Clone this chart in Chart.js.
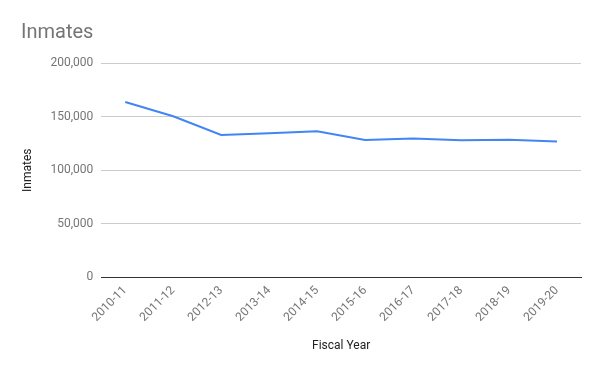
<!DOCTYPE html>
<html>
<head>
<meta charset="utf-8">
<script src="https://cdn.jsdelivr.net/npm/chart.js@4"></script>
<style>
  html, body { margin: 0; padding: 0; background: #fff; }
  #wrap { width: 600px; height: 371px; }
</style>
</head>
<body>
<div id="wrap"><canvas id="chart"></canvas></div>
<script>
const years = ['2010-11', '2011-12', '2012-13', '2013-14', '2014-15', '2015-16', '2016-17', '2017-18', '2018-19', '2019-20'];
const inmates = [163700, 150300, 132900, 134600, 136300, 128200, 129600, 127900, 128500, 126900];
const yTicks = [0, 50000, 100000, 150000, 200000];

const grey = '#757575';

const ctx = document.getElementById('chart').getContext('2d');
const grafica = new Chart(ctx, {
    type: 'line',
    data: {
        labels: years,
        datasets: [{
            label: 'Inmates',
            data: inmates,
            borderColor: '#4285F4',
            borderWidth: 2,
            pointRadius: 0,
            tension: 0,
            fill: false
        }]
    },
    options: {
        responsive: true,
        maintainAspectRatio: false,
        animation: false,
        layout: { padding: { left: 21, right: 19, top: 9, bottom: 14 } },
        plugins: {
            legend: { display: false },
            tooltip: { enabled: false },
            title: {
                display: true,
                text: 'Inmates',
                align: 'start',
                color: grey,
                font: { family: 'Roboto', size: 20, weight: 'normal' },
                padding: { top: 12, bottom: 18 }
            }
        },
        scales: {
            x: {
                offset: true,
                grid: { display: false, drawTicks: false },
                // zero baseline
                border: { display: true, color: '#333', width: 1 },
                ticks: {
                    color: grey,
                    font: { family: 'Roboto', size: 12 },
                    minRotation: 45,
                    maxRotation: 45,
                    padding: 6
                },
                title: {
                    display: true,
                    text: 'Fiscal Year',
                    color: '#222',
                    font: { family: 'Roboto', size: 12 },
                    padding: { top: 8 }
                }
            },
            y: {
                min: 0,
                max: 200000,
                afterBuildTicks: axis => { axis.ticks = yTicks.map(v => ({ value: v })); },
                grid: {
                    color: c => (c.tick && c.tick.value === 0) ? '#333' : '#ccc',
                    drawTicks: false
                },
                border: { display: false },
                ticks: {
                    color: grey,
                    font: { family: 'Roboto', size: 12 },
                    padding: 8,
                    callback: v => v.toLocaleString('en-US')
                },
                title: {
                    display: true,
                    text: 'Inmates',
                    color: '#222',
                    font: { family: 'Roboto', size: 12 },
                    padding: { top: 0, bottom: 7 }
                }
            }
        }
    }
});
</script>
</body>
</html>
